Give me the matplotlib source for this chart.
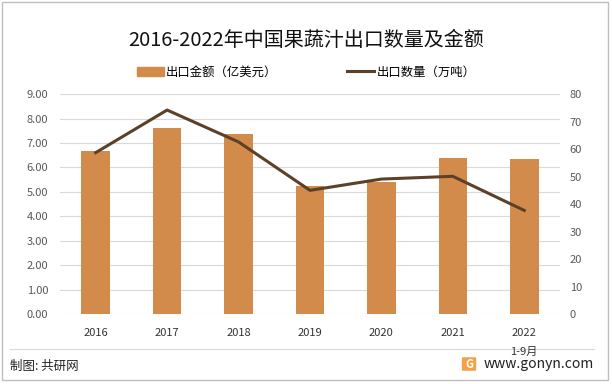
import matplotlib
matplotlib.use('Agg')
import matplotlib.pyplot as plt
from matplotlib.patches import Rectangle, FancyBboxPatch
from matplotlib.lines import Line2D
import numpy as np

plt.rcParams['font.family'] = ['Noto Sans CJK SC', 'DejaVu Sans']

years = ['2016', '2017', '2018', '2019', '2020', '2021', '2022']
amount = [6.67, 7.60, 7.36, 5.24, 5.40, 6.38, 6.34]      # 出口金额（亿美元）
volume = [58.7, 74.2, 62.6, 45.0, 49.1, 50.1, 37.7]      # 出口数量（万吨）

barColor = '#D38B4C'
lineColor = '#5C4128'
tickColor = '#595959'

fig = plt.figure(figsize=(6.12, 3.84), dpi=100)
ax = fig.add_axes([0.098, 0.182, 0.817, 0.573])
ax2 = ax.twinx()

x = np.arange(len(years))
ax.bar(x, amount, width=0.4, color=barColor, zorder=2)
ax2.plot(x, volume, color=lineColor, linewidth=2.2, zorder=3)

ax.set_xlim(-0.5, len(years) - 0.5)
ax.set_ylim(0, 9)
ax.set_yticks(np.arange(0, 9.01, 1))
ax.set_yticklabels(['%.2f' % v for v in np.arange(0, 9.01, 1)])
ax2.set_ylim(0, 80)
ax2.set_yticks(np.arange(0, 81, 10))

ax.set_xticks(x)
ax.set_xticklabels(years)
fig.text(524 / 612, 1 - 352 / 384, '1-9月', ha='center', va='center', fontsize=8, color='#333333')

ax.grid(axis='y', color='#D9D9D9', linewidth=0.8, zorder=0)
ax.set_axisbelow(True)
for a in (ax, ax2):
    for s in a.spines.values():
        s.set_visible(False)
    a.tick_params(length=0, labelsize=8, colors=tickColor)
ax.tick_params(axis='x', colors='#333333', pad=10)
ax.tick_params(axis='y', pad=8.5)
ax2.tick_params(axis='y', pad=7)

fig.text(0.5, 1 - 40 / 384, '2016-2022年中国果蔬汁出口数量及金额', ha='center', va='center',
         fontsize=14.4, color='#111111')

handles = [Rectangle((0, 0), 1, 1, color=barColor),
           Line2D([0], [0], color=lineColor, linewidth=2.2)]
fig.legend(handles, ['出口金额（亿美元）', '出口数量（万吨）'], loc='center',
           bbox_to_anchor=(0.5, 1 - 72 / 384), ncol=2, frameon=False, fontsize=8.9,
           handlelength=2.2, columnspacing=5.6, handletextpad=0.2)

fig.add_artist(Line2D([10 / 612, 594 / 612], [1 - 349 / 384, 1 - 349 / 384],
                      color='#D9D9D9', linewidth=0.8))
fig.text(10 / 612, 1 - 366 / 384, '制图: 共研网', ha='left', va='center', fontsize=9, color='#222222')
fig.text(594 / 612, 1 - 364 / 384, 'www.gonyn.com', ha='right', va='center', fontsize=10, color='#222222')
fig.add_artist(FancyBboxPatch((463 / 612, 1 - 370 / 384), 12 / 612, 12 / 384,
                              boxstyle='round,pad=0.002', transform=fig.transFigure,
                              facecolor='#F4A24A', edgecolor='none'))
fig.text(469 / 612, 1 - 364 / 384, 'G', ha='center', va='center', fontsize=8,
         color='white', fontweight='bold')

fig.add_artist(Rectangle((0.004, 0.01), 0.99, 0.986, transform=fig.transFigure,
                         fill=False, edgecolor='#BFBFBF', linewidth=1))

fig.savefig('out.png', dpi=100)
